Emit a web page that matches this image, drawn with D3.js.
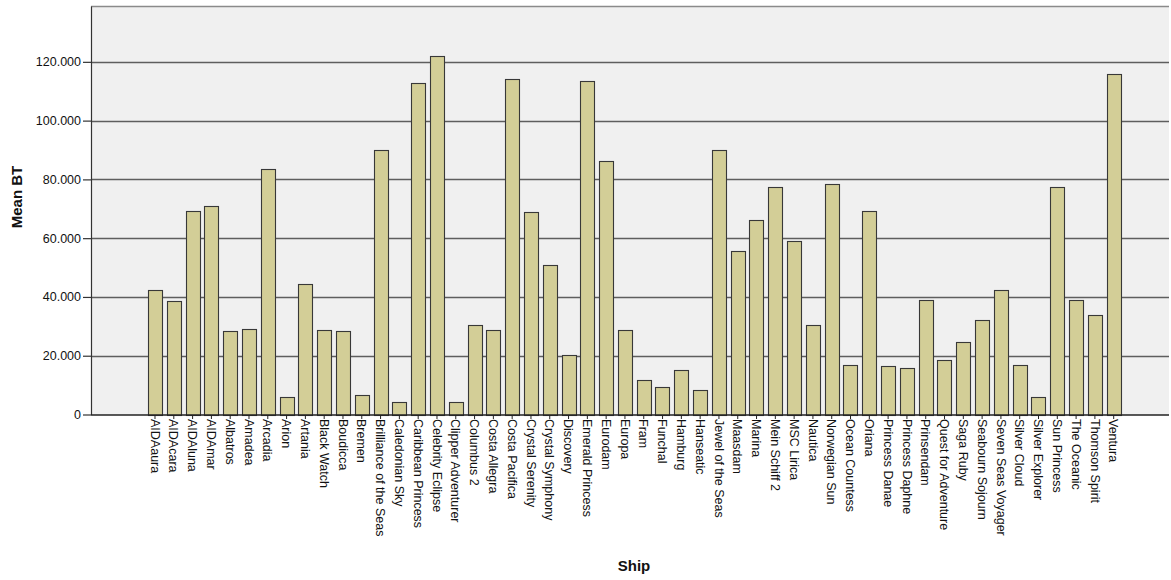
<!DOCTYPE html>
<html>
<head>
<meta charset="utf-8">
<script src="https://cdn.jsdelivr.net/npm/d3@7"></script>
<style>
  html, body { margin: 0; padding: 0; background: #ffffff; }
  svg { display: block; }
  text { font-family: "Liberation Sans", Arial, sans-serif; fill: #111; }
</style>
</head>
<body>
<svg id="chart" width="1171" height="580"></svg>
<script>
const ships = [
  "AIDAaura","AIDAcara","AIDAluna","AIDAmar","Albatros","Amadea","Arcadia","Arion","Artania",
  "Black Watch","Boudicca","Bremen","Brilliance of the Seas","Caledonian Sky","Caribbean Princess",
  "Celebrity Eclipse","Clipper Adventurer","Columbus 2","Costa Allegra","Costa Pacifica",
  "Crystal Serenity","Crystal Symphony","Discovery","Emerald Princess","Eurodam","Europa","Fram",
  "Funchal","Hamburg","Hanseatic","Jewel of the Seas","Maasdam","Marina","Mein Schiff 2",
  "MSC Lirica","Nautica","Norwegian Sun","Ocean Countess","Oriana","Princess Danae",
  "Princess Daphne","Prinsendam","Quest for Adventure","Saga Ruby","Seabourn Sojourn",
  "Seven Seas Voyager","Silver Cloud","Silver Explorer","Sun Princess","The Oceanic",
  "Thomson Spirit","Ventura"
];
const meanBT = [
  42300, 38500, 69200, 71000, 28500, 29000, 83700, 5800, 44500,
  28600, 28400, 6800, 90100, 4200, 112900,
  121900, 4400, 30300, 28600, 114300,
  68900, 51000, 20200, 113600, 86200, 28900, 11600,
  9500, 15100, 8400, 90100, 55500, 66100, 77300,
  59000, 30300, 78300, 16800, 69200, 16500,
  15900, 38800, 18600, 24500, 32300,
  42300, 16900, 6100, 77400, 38800,
  33900, 116000
];
const yTicks = [0, 20000, 40000, 60000, 80000, 100000, 120000];
const yMax = 139000;
const xTitle = "Ship";
const yTitle = "Mean BT";

const svg = d3.select("#chart");
const plot = { left: 91, right: 1169, top: 6, bottom: 415 };

const x = d3.scaleBand()
  .domain(ships)
  .range([145.6, 1123.1])
  .paddingInner(0.25)
  .paddingOuter(0.125);

const y = d3.scaleLinear()
  .domain([0, yMax])
  .range([414.5, plot.top]);

const locale = d3.formatLocale({ decimal: ",", thousands: ".", grouping: [3], currency: ["", ""] });
const fmt = locale.format(",.0f");

// plot background
svg.append("rect")
  .attr("x", plot.left).attr("y", plot.top)
  .attr("width", plot.right - plot.left).attr("height", plot.bottom - plot.top)
  .attr("fill", "#f0f0f0");

// top border
svg.append("line")
  .attr("x1", plot.left).attr("x2", plot.right)
  .attr("y1", plot.top + 0.5).attr("y2", plot.top + 0.5)
  .attr("stroke", "#8a8a8a").attr("stroke-width", 1.5);

// gridlines
svg.append("g")
  .selectAll("line")
  .data(yTicks.filter(d => d > 0))
  .join("line")
  .attr("x1", plot.left).attr("x2", plot.right)
  .attr("y1", d => Math.round(y(d)) + 0.5).attr("y2", d => Math.round(y(d)) + 0.5)
  .attr("stroke", "#5e5e5e").attr("stroke-width", 1.4);

// bars
svg.append("g")
  .selectAll("rect")
  .data(ships)
  .join("rect")
  .attr("x", d => Math.round(x(d)) + 0.5)
  .attr("y", (d, i) => Math.round(y(meanBT[i])) + 0.5)
  .attr("width", Math.round(x.bandwidth()))
  .attr("height", (d, i) => Math.max(0, Math.round(y(0)) - Math.round(y(meanBT[i]))))
  .attr("fill", "#d3ce97")
  .attr("stroke", "#383838")
  .attr("stroke-width", 1.1);

// y axis
const yAxis = d3.axisLeft(y)
  .tickValues(yTicks)
  .tickFormat(fmt)
  .tickSize(8)
  .tickSizeOuter(0)
  .tickPadding(2);
const gy = svg.append("g")
  .attr("transform", `translate(${plot.left},0)`)
  .call(yAxis);
gy.select(".domain").attr("stroke", "#333").attr("stroke-width", 1.2);
gy.selectAll(".tick line").attr("stroke", "#333").attr("stroke-width", 1.2);
gy.selectAll(".tick text")
  .attr("font-size", "12.5px")
  .attr("font-family", "Liberation Sans, Arial, sans-serif")
  .attr("fill", "#222");

// x axis
const xAxis = d3.axisBottom(x).tickSize(4).tickPadding(2).tickSizeOuter(0);
const gx = svg.append("g")
  .attr("transform", `translate(0,${plot.bottom})`)
  .call(xAxis);
gx.select(".domain").remove();
gx.append("line")
  .attr("x1", plot.left).attr("x2", plot.right)
  .attr("y1", 0).attr("y2", 0)
  .attr("stroke", "#222").attr("stroke-width", 1.4);
gx.selectAll(".tick line").attr("stroke", "#222").attr("stroke-width", 1);
gx.selectAll(".tick text")
  .attr("font-size", "12.5px")
  .attr("font-family", "Liberation Sans, Arial, sans-serif")
  .attr("fill", "#1a1a1a")
  .attr("text-anchor", "start")
  .attr("transform", "translate(0,4) rotate(90)")
  .attr("x", 0).attr("y", 0)
  .attr("dy", "0.35em");

// axis titles
svg.append("text")
  .attr("x", 634).attr("y", 571)
  .attr("text-anchor", "middle")
  .attr("font-size", "15px")
  .attr("font-weight", "bold")
  .text(xTitle);

svg.append("text")
  .attr("transform", "translate(16,197) rotate(-90)")
  .attr("text-anchor", "middle")
  .attr("dominant-baseline", "central")
  .attr("font-size", "15px")
  .attr("font-weight", "bold")
  .text(yTitle);
</script>
</body>
</html>
